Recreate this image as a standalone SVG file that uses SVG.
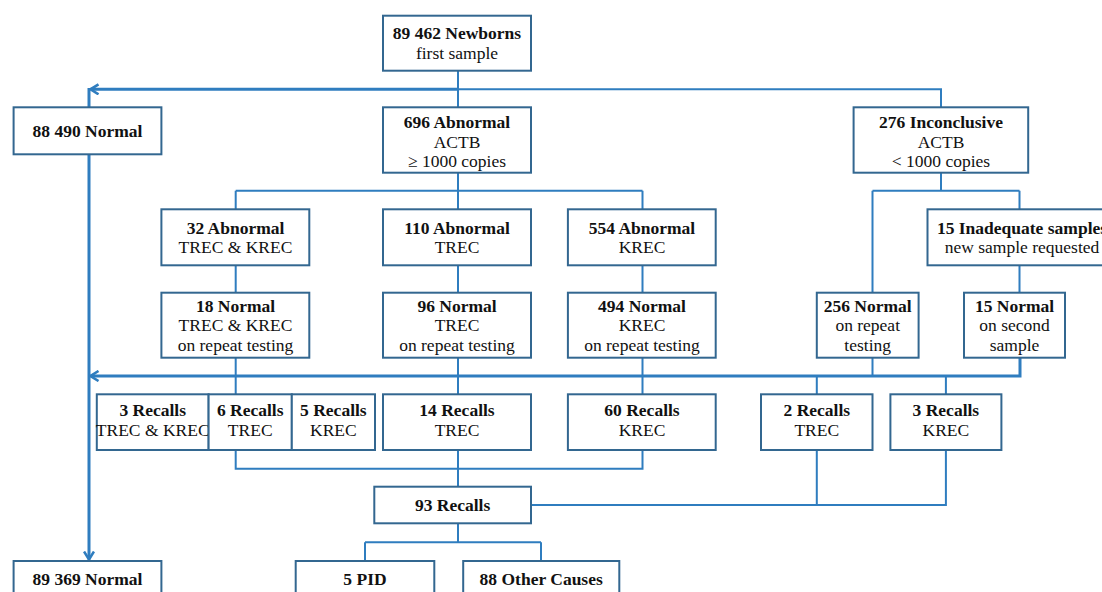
<svg xmlns="http://www.w3.org/2000/svg" width="1102" height="592" viewBox="0 0 1102 592">
<defs>
<style>
.box{fill:#fff;stroke:#336790;stroke-width:2}
.c{fill:none;stroke:#2f7dbf;stroke-width:2}
.t{fill:none;stroke:#2f7dbf;stroke-width:3}
text{font-family:"Liberation Serif","DejaVu Serif","Times New Roman",serif;font-size:17.5px;fill:#111;text-anchor:middle}
.b{font-weight:bold}
</style>
<marker id="chev" viewBox="0 0 10 12" refX="9" refY="6" markerWidth="10" markerHeight="12" markerUnits="userSpaceOnUse" orient="auto">
<path d="M1,1 L9,6 L1,11" fill="none" stroke="#2f7dbf" stroke-width="2.6"/>
</marker>
</defs>
<rect width="1102" height="592" fill="#fff"/>
<g id="connectors">
<path class="c" d="M458,70.7 V107.3"/>
<path class="t" d="M458,89.3 H90.5" marker-end="url(#chev)"/>
<path class="t" d="M89,88 V107.3"/>
<path class="c" d="M458,89.3 H941 V107.3"/>
<path class="t" d="M89,154.3 V559.5" marker-end="url(#chev)"/>
<path class="c" d="M458,172.7 V190.7 M235.7,190.7 H642.5 M235.7,190.7 V209.3 M458,190.7 V209.3 M642.5,190.7 V209.3"/>
<path class="c" d="M941,172.7 V190.7 M872.5,190.7 H1019.5 M872.5,190.7 V292.7 M1019.5,190.7 V209.3 M1019.5,265.3 V292.7"/>
<path class="c" d="M235.7,265.3 V292.7 M458,265.3 V292.7 M642.5,265.3 V292.7"/>
<path class="c" d="M235.7,357.7 V394.3 M458,357.7 V394.3 M642.5,357.7 V394.3 M872.5,357.7 V376 M816.8,376 V394.3 M945.9,376 V394.3"/>
<path class="t" d="M1020,357.7 V376 H90.5" marker-end="url(#chev)"/>
<path class="c" d="M235.7,450 V468.7 H642.5 V450 M458,450 V486.7"/>
<path class="c" d="M531,505 H945.9 V450 M816.8,450 V505"/>
<path class="c" d="M458,523.3 V542.3 M365,542.3 H541 M365,542.3 V561 M541,542.3 V561"/>
</g>
<g id="n-newborns"><rect class="box" x="383" y="15.7" width="148" height="55"/><text x="457" y="39" class="b">89 462 Newborns</text><text x="457" y="58.5">first sample</text></g>
<g id="n-normal1"><rect class="box" x="13.6" y="107.3" width="147.8" height="47"/><text x="87.5" y="136.5" class="b">88 490 Normal</text></g>
<g id="n-abn696"><rect class="box" x="383" y="107.3" width="148" height="65.4"/><text x="457" y="128" class="b">696 Abnormal</text><text x="457" y="147.5">ACTB</text><text x="457" y="167">≥ 1000 copies</text></g>
<g id="n-incon"><rect class="box" x="853.6" y="107.3" width="174.6" height="65.4"/><text x="941" y="128" class="b">276 Inconclusive</text><text x="941" y="147.5">ACTB</text><text x="941" y="167">&lt; 1000  copies</text></g>
<g id="n-abn32"><rect class="box" x="161.4" y="209.3" width="147.9" height="56"/><text x="235.5" y="234" class="b">32 Abnormal</text><text x="235.5" y="253">TREC &amp; KREC</text></g>
<g id="n-abn110"><rect class="box" x="383" y="209.3" width="148" height="56"/><text x="457" y="234" class="b">110 Abnormal</text><text x="457" y="253">TREC</text></g>
<g id="n-abn554"><rect class="box" x="567.9" y="209.3" width="147.8" height="56"/><text x="642" y="234" class="b">554 Abnormal</text><text x="642" y="253">KREC</text></g>
<g id="n-inadeq"><rect class="box" x="927.5" y="209.3" width="190" height="56"/><text x="1022" y="234" class="b">15 Inadequate samples</text><text x="1022" y="253">new sample requested</text></g>
<g id="n-norm18"><rect class="box" x="161.4" y="292.7" width="147.9" height="65"/><text x="235.5" y="311.5" class="b">18 Normal</text><text x="235.5" y="331">TREC &amp; KREC</text><text x="235.5" y="350.5">on repeat testing</text></g>
<g id="n-norm96"><rect class="box" x="383" y="292.7" width="148" height="65"/><text x="457" y="311.5" class="b">96 Normal</text><text x="457" y="331">TREC</text><text x="457" y="350.5">on repeat testing</text></g>
<g id="n-norm494"><rect class="box" x="567.9" y="292.7" width="147.8" height="65"/><text x="642" y="311.5" class="b">494 Normal</text><text x="642" y="331">KREC</text><text x="642" y="350.5">on repeat testing</text></g>
<g id="n-norm256"><rect class="box" x="816.8" y="292.7" width="101.8" height="65"/><text x="867.7" y="311.5" class="b">256 Normal</text><text x="867.7" y="331">on repeat</text><text x="867.7" y="350.5">testing</text></g>
<g id="n-norm15"><rect class="box" x="964" y="292.7" width="101" height="65"/><text x="1014.5" y="311.5" class="b">15 Normal</text><text x="1014.5" y="331">on second</text><text x="1014.5" y="350.5">sample</text></g>
<g id="n-rec3"><rect class="box" x="96.8" y="394.3" width="111.8" height="55.7"/><text x="152.7" y="416" class="b">3 Recalls</text><text x="152.7" y="435.5">TREC &amp; KREC</text></g>
<g id="n-rec6"><rect class="box" x="208.6" y="394.3" width="83.2" height="55.7"/><text x="250.2" y="416" class="b">6 Recalls</text><text x="250.2" y="435.5">TREC</text></g>
<g id="n-rec5"><rect class="box" x="291.8" y="394.3" width="83.2" height="55.7"/><text x="333.4" y="416" class="b">5 Recalls</text><text x="333.4" y="435.5">KREC</text></g>
<g id="n-rec14"><rect class="box" x="383" y="394.3" width="148" height="55.7"/><text x="457" y="416" class="b">14 Recalls</text><text x="457" y="435.5">TREC</text></g>
<g id="n-rec60"><rect class="box" x="567.9" y="394.3" width="147.8" height="55.7"/><text x="642" y="416" class="b">60 Recalls</text><text x="642" y="435.5">KREC</text></g>
<g id="n-rec2"><rect class="box" x="761" y="394.3" width="111.5" height="55.7"/><text x="816.8" y="416" class="b">2 Recalls</text><text x="816.8" y="435.5">TREC</text></g>
<g id="n-rec3k"><rect class="box" x="890.4" y="394.3" width="111" height="55.7"/><text x="945.9" y="416" class="b">3 Recalls</text><text x="945.9" y="435.5">KREC</text></g>
<g id="n-rec93"><rect class="box" x="374.3" y="486.7" width="156.7" height="36.6"/><text x="452.6" y="510.5" class="b">93 Recalls</text></g>
<g id="n-normal2"><rect class="box" x="13.6" y="561" width="147.8" height="45"/><text x="87.5" y="585" class="b">89 369 Normal</text></g>
<g id="n-pid"><rect class="box" x="295.7" y="561" width="138.6" height="45"/><text x="365" y="585" class="b">5 PID</text></g>
<g id="n-other"><rect class="box" x="463.2" y="561" width="156.1" height="45"/><text x="541.2" y="585" class="b">88 Other Causes</text></g>
</svg>
